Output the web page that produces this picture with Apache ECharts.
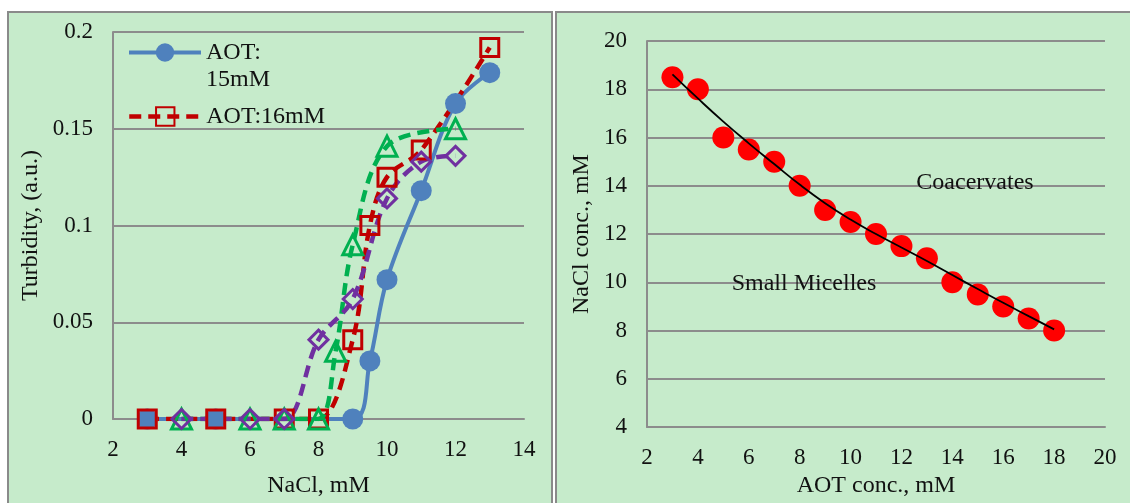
<!DOCTYPE html>
<html><head><meta charset="utf-8">
<script src="https://cdn.jsdelivr.net/npm/echarts@6/dist/echarts.min.js"></script>
<style>html,body{margin:0;padding:0;background:#fff;} #c{width:1130px;height:503px;}</style>
</head><body><div id="c"></div>
<script>
// Left chart: turbidity vs NaCl
const x15 = [3, 5, 9, 9.5, 10, 11, 12, 13];
const y15 = [0, 0, 0, 0.030, 0.072, 0.118, 0.163, 0.179];
const x16 = [3, 5, 7, 8, 9, 9.5, 10, 11, 13];
const y16 = [0, 0, 0, 0, 0.041, 0.100, 0.125, 0.139, 0.192];
const xG = [4, 6, 7, 8, 8.5, 9, 10, 12];
const yG = [0, 0, 0, 0, 0.035, 0.090, 0.141, 0.150];
const xP = [4, 6, 7, 8, 9, 10, 11, 12];
const yP = [0, 0, 0, 0.041, 0.062, 0.114, 0.133, 0.136];
// Right chart: phase boundary
const aot = [3, 4, 5, 6, 7, 8, 9, 10, 11, 12, 13, 14, 15, 16, 17, 18];
const nacl = [18.5, 18, 16, 15.5, 15, 14, 13, 12.5, 12, 11.5, 11, 10, 9.5, 9, 8.5, 8];
const trend = [18.62, 17.62, 16.66, 15.76, 14.9, 14.05, 13.28, 12.6, 12.0, 11.44, 10.88, 10.3, 9.72, 9.15, 8.6, 8.05];
const nameA = 'AOT: 15mM', nameB = 'AOT:16mM';

const zip = (a, b) => a.map((v, i) => [v, b[i]]);
const FONT = 'Liberation Serif';
const GRID = '#8c8c8c';
const BG = '#c6ebcb';
const txt = { fontFamily: FONT, fontSize: 23, color: '#111' };
const ttl = { fontFamily: FONT, fontSize: 24, color: '#111' };
const SM = 0.35;

const chart = echarts.init(document.getElementById('c'), null, { renderer: 'canvas' });
chart.setOption({
  backgroundColor: '#ffffff',
  animation: false,
  graphic: [
    { type: 'rect', z: -10, shape: { x: 8, y: 12, width: 544, height: 520 }, style: { fill: BG, stroke: '#8a8a8a', lineWidth: 2 } },
    { type: 'rect', z: -10, shape: { x: 556, y: 12, width: 600, height: 520 }, style: { fill: BG, stroke: '#8a8a8a', lineWidth: 2 } },
    { type: 'text', z: 100, x: 975, y: 183, style: { text: 'Coacervates', fontFamily: FONT, fontSize: 24, fill: '#111', align: 'center', verticalAlign: 'middle' } },
    { type: 'text', z: 100, x: 804, y: 284, style: { text: 'Small Micelles', fontFamily: FONT, fontSize: 24, fill: '#111', align: 'center', verticalAlign: 'middle' } }
  ],
  legend: [
    { data: [nameA], left: 127, top: 12, padding: 0, itemWidth: 72, itemHeight: 23,
      formatter: () => ' \nAOT:\n15mM', textStyle: { ...ttl, lineHeight: 27 },
      lineStyle: { width: 4 } },
    { data: [nameB], left: 127, top: 103, padding: 0, itemWidth: 72, itemHeight: 23,
      textStyle: { ...ttl, lineHeight: 27 }, lineStyle: { width: 4.5 } }
  ],
  grid: [
    { left: 113, top: 32, width: 411, height: 390 },
    { left: 647, top: 41, width: 458, height: 394 }
  ],
  xAxis: [
    { gridIndex: 0, type: 'value', min: 2, max: 14, interval: 2,
      name: 'NaCl, mM', nameLocation: 'middle', nameGap: 55, nameTextStyle: ttl,
      axisLine: { show: true, lineStyle: { color: GRID, width: 2 } }, axisTick: { show: false },
      axisLabel: { ...txt, margin: 19 }, splitLine: { show: false } },
    { gridIndex: 1, type: 'value', min: 2, max: 20, interval: 2,
      name: 'AOT conc., mM', nameLocation: 'middle', nameGap: 46, nameTextStyle: ttl,
      axisLine: { show: true, lineStyle: { color: GRID, width: 2 } }, axisTick: { show: false },
      axisLabel: { ...txt, margin: 19 }, splitLine: { show: false } }
  ],
  yAxis: [
    { gridIndex: 0, type: 'value', min: 0, max: 0.2, interval: 0.05,
      name: 'Turbidity, (a.u.)', nameLocation: 'middle', nameGap: 70, nameTextStyle: ttl,
      axisLine: { show: true, lineStyle: { color: GRID, width: 2 } }, axisTick: { show: false },
      axisLabel: { ...txt, margin: 20 }, splitLine: { show: true, lineStyle: { color: GRID, width: 2 } } },
    { gridIndex: 1, type: 'value', min: 4, max: 20, interval: 2,
      name: 'NaCl conc., mM', nameLocation: 'middle', nameGap: 53, nameTextStyle: ttl,
      axisLine: { show: true, lineStyle: { color: GRID, width: 2 } }, axisTick: { show: false },
      axisLabel: { ...txt, margin: 20 }, splitLine: { show: true, lineStyle: { color: GRID, width: 2 } } }
  ],
  series: [
    { name: nameA, type: 'line', xAxisIndex: 0, yAxisIndex: 0, data: zip(x15, y15), smooth: SM,
      symbol: 'circle', symbolSize: 21, lineStyle: { color: '#4f81bd', width: 4 }, itemStyle: { color: '#4f81bd' } },
    { name: nameB, type: 'line', xAxisIndex: 0, yAxisIndex: 0, data: zip(x16, y16), smooth: SM,
      symbol: 'rect', symbolSize: 18, lineStyle: { color: '#c00000', width: 4.5, type: [12, 7] },
      itemStyle: { color: 'rgba(0,0,0,0)', borderColor: '#c00000', borderWidth: 3 } },
    { name: 'AOT:17mM', type: 'line', xAxisIndex: 0, yAxisIndex: 0, data: zip(xG, yG), smooth: SM,
      symbol: 'triangle', symbolSize: 20, lineStyle: { color: '#00b050', width: 4.5, type: [12, 7] },
      itemStyle: { color: 'rgba(0,0,0,0)', borderColor: '#00b050', borderWidth: 3 } },
    { name: 'AOT:18mM', type: 'line', xAxisIndex: 0, yAxisIndex: 0, data: zip(xP, yP), smooth: SM,
      symbol: 'diamond', symbolSize: 19, lineStyle: { color: '#7030a0', width: 4.5, type: [12, 7] },
      itemStyle: { color: 'rgba(0,0,0,0)', borderColor: '#7030a0', borderWidth: 3 } },
    { name: 'Boundary', type: 'scatter', xAxisIndex: 1, yAxisIndex: 1, data: zip(aot, nacl),
      symbol: 'circle', symbolSize: 22, itemStyle: { color: '#ff0000', opacity: 1 } },
    { name: 'Trend', type: 'line', xAxisIndex: 1, yAxisIndex: 1, data: zip(aot, trend), smooth: 0.5,
      symbol: 'none', lineStyle: { color: '#000', width: 1.8 } }
  ]
});
</script></body></html>
